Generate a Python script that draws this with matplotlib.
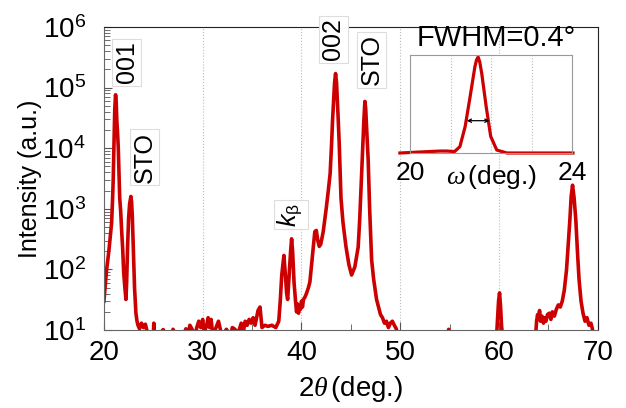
import matplotlib
matplotlib.use('Agg')
import matplotlib.pyplot as plt

plt.rcParams['font.family'] = ['Liberation Sans', 'DejaVu Sans']
plt.rcParams['mathtext.fontset'] = 'custom'
plt.rcParams['mathtext.rm'] = 'Liberation Sans'
plt.rcParams['mathtext.it'] = 'Liberation Serif:italic'
plt.rcParams['mathtext.sf'] = 'Liberation Sans:italic'

# ---- main XRD scan (2theta, intensity) ----
two_theta = [
    20.0, 20.27, 20.5, 20.78, 20.88, 20.94, 21.0, 21.05, 21.1, 21.18, 21.25, 21.3, 21.38,
    21.45, 21.52, 21.6, 21.7, 21.79, 21.9, 22.0, 22.1, 22.23,
    22.3, 22.4, 22.5, 22.6, 22.73, 22.8, 22.87, 22.97, 23.1, 23.24, 23.35,
    23.45, 23.6, 23.8, 24.0, 24.2, 24.4, 24.6, 25.0, 25.05, 25.1, 25.5, 26.0, 26.3, 26.8,
    27.0, 27.3, 28.0, 28.3, 28.5, 28.7, 28.9, 29.2, 29.4, 29.6, 29.8, 30.0, 30.15, 30.4,
    30.55, 30.7, 30.85, 31.0, 31.3, 31.6, 31.8, 32.0, 32.4, 32.8, 33.0, 33.2, 33.6, 33.9,
    34.1, 34.3, 34.5, 34.7, 34.9, 35.1, 35.3, 35.6, 35.8, 36.0, 36.3, 36.6, 37.0, 37.4,
    37.6, 37.7, 37.85, 38.0, 38.22, 38.35, 38.5, 38.6, 38.75, 38.9, 39.0, 39.1, 39.25,
    39.4, 39.5, 39.6, 39.7, 39.8, 39.9, 40.0, 40.1, 40.2, 40.35, 40.5, 40.7, 40.85, 41.0,
    41.2, 41.35, 41.5, 41.65, 41.8, 41.95, 42.2, 42.5, 42.7, 42.9, 43.05, 43.15, 43.25,
    43.35, 43.45, 43.55, 43.6, 43.7, 43.82, 44.0, 44.2, 44.5, 44.8, 45.07, 45.4, 45.74,
    45.9, 46.08, 46.25, 46.32, 46.42, 46.5, 46.6, 46.67, 46.75, 46.9, 47.1, 47.3, 47.6,
    47.8, 48.0, 48.2, 48.4, 48.6, 48.8, 49.0, 49.2, 49.4, 49.6, 49.7, 54.8, 54.9, 55.0,
    59.75, 59.85, 59.95, 60.05, 60.15, 60.25, 60.35,
    63.7, 63.8, 63.9, 64.0, 64.1, 64.2, 64.35, 64.5, 64.6, 64.75, 64.9, 65.1, 65.25, 65.4,
    65.6, 65.8, 66.0, 66.2, 66.4, 66.6, 66.83, 67.0, 67.17, 67.3, 67.44, 67.6, 67.77,
    67.95, 68.1, 68.3, 68.5, 68.7, 68.9, 69.1, 69.3, 69.45, 69.5, 70.0]
intensity = [
    30, 98, 200, 590, 1500, 3000, 9000, 20000, 45000, 76000, 55000, 30000, 18000,
    10500, 4500, 1500, 900, 450, 220, 90, 55, 32,
    60, 250, 700, 1200, 1600, 1300, 800, 235, 50, 19, 14,
    12, 10.5, 13, 11, 12.5, 9, 8, 8, 13, 8, 8, 10.2, 8, 8,
    10.3, 8, 8, 10.5, 8, 12, 10.5, 8, 11, 14, 11, 15, 9, 12,
    16, 11, 15, 9, 10.5, 14, 10, 8, 10.3, 8, 11, 10.5, 9, 13,
    9, 14, 12, 15, 13, 16, 12, 21, 24, 11, 12, 11.5, 12, 11,
    13, 14, 30, 80, 170, 90, 40, 32, 80, 200, 320, 200, 60,
    30, 20, 27, 19, 25, 22, 30, 24, 32, 35, 40, 50, 62, 110,
    230, 420, 440, 300, 240, 260, 420, 1000, 1900, 3800, 12000, 30000, 60000,
    120000, 170000, 120000, 80000, 35000, 12000, 1500, 600, 240, 120, 81, 110, 234,
    700, 3400, 15000, 30000, 59000, 45000, 20000, 12000, 6500, 1000, 145, 70, 32,
    24, 18, 16, 13, 14, 11, 13, 14, 12, 10.5, 8, 8, 10.3, 8,
    8, 15, 30, 41, 25, 12, 8,
    8, 14, 18, 15, 21, 14, 17, 13, 16, 14, 18, 19, 15, 20,
    17, 22, 26, 24, 30, 45, 98, 250, 660, 1600, 2450, 1500, 660,
    180, 68, 30, 19, 14, 16, 12, 13, 10.5, 8, 8]

x_tick_values = [20, 30, 40, 50, 60, 70]
y_tick_values = [1e1, 1e2, 1e3, 1e4, 1e5, 1e6]
y_tick_labels = [r'$\mathregular{10^{%d}}$' % e for e in range(1, 7)]
peak_names = ['001', 'STO', r'$\mathsf{k}_{\mathrm{\beta}}$', '002', 'STO']

# ---- inset rocking curve (omega scan) ----
omega = [19.75, 20.74, 20.9, 21.1, 21.23, 21.36, 21.48, 21.6, 21.64, 21.68, 21.72,
         21.77, 21.88, 21.99, 22.14, 22.39, 24.02]
rocking = [0.0, 0.02, 0.02, 0.015, 0.065, 0.27, 0.57, 0.88, 0.95, 0.98, 0.93,
           0.81, 0.47, 0.17, 0.03, 0.0, 0.0]

red = '#CC0000'
fig = plt.figure(figsize=(6.26, 4.08), dpi=100)
ax = fig.add_axes([0.166, 0.191, 0.789, 0.743])
ax.plot(two_theta, intensity, color=red, lw=2.6, solid_joinstyle='round')
ax.set_yscale('log')
ax.set_xlim(20, 70)
ax.set_ylim(10, 1e6)
ax.set_xticks(x_tick_values)
ax.set_xticks([25, 35, 45, 55, 65], minor=True)
ax.set_xticklabels([str(v) for v in x_tick_values])
ax.set_yticks(y_tick_values)
ax.set_yticklabels(y_tick_labels)
ax.tick_params(which='both', direction='in', labelsize=20, colors='#555555', labelcolor='black')
ax.tick_params(axis='x', which='major', length=6, pad=7)
ax.tick_params(axis='x', which='minor', length=4)
ax.tick_params(axis='y', which='major', length=6, pad=13)
ax.tick_params(axis='y', which='minor', length=4)
ax.grid(axis='x', which='major', ls=':', color='#bbbbbb', lw=0.8)
for s in ['left', 'bottom']:
    ax.spines[s].set_color('#666666')
for s in ['top', 'right']:
    ax.spines[s].set_color('#222222')
ax.set_xlabel(r'2$\theta\,$(deg.)', fontsize=20, va='center', ha='center')
ax.xaxis.set_label_coords(0.5, -0.195)
ax.set_ylabel('Intensity (a.u.)', fontsize=18, va='center', ha='center')
ax.yaxis.set_label_coords(-0.15, 0.5)

box = dict(boxstyle='square,pad=0.1', fc='white', ec='#dddddd', lw=0.8)
label_pos = [(22.33, 2.6e5), (24.15, 7.1e3), (38.9, 800), (43.2, 6.3e5), (47.1, 2.9e5)]
for name, (lx, ly) in zip(peak_names, label_pos):
    ax.text(lx, ly, name, rotation=90, fontsize=18, ha='center', va='center',
            bbox=box, clip_on=False, zorder=5)

# inset
ax2 = fig.add_axes([0.655, 0.625, 0.259, 0.240])
ax2.plot(omega, rocking, color=red, lw=2.3, clip_on=False)
ax2.set_xlim(20, 24)
ax2.set_ylim(0, 1.0)
ax2.set_xticks([20, 24])
ax2.set_xticklabels(['20', '24'])
ax2.set_xticks([21, 22, 23], minor=True)
ax2.set_yticks([])
ax2.tick_params(which='both', length=0, labelsize=19, pad=6)
ax2.grid(axis='x', which='minor', ls=':', color='#bbbbbb', lw=0.8)
for s in ax2.spines.values():
    s.set_color('#999999')
ax2.text(22.02, -0.245, r'$\omega\,$(deg.)', fontsize=19, ha='center', va='center',
         transform=ax2.transData)
ax2.text(22.12, 1.17, 'FWHM=0.4°', fontsize=21, ha='center', va='center')
ax2.annotate('', xy=(21.4, 0.33), xytext=(21.96, 0.33),
             arrowprops=dict(arrowstyle='<->', color='black', lw=0.9, mutation_scale=6,
                             shrinkA=0, shrinkB=0))

fig.savefig('out.png', dpi=100)
